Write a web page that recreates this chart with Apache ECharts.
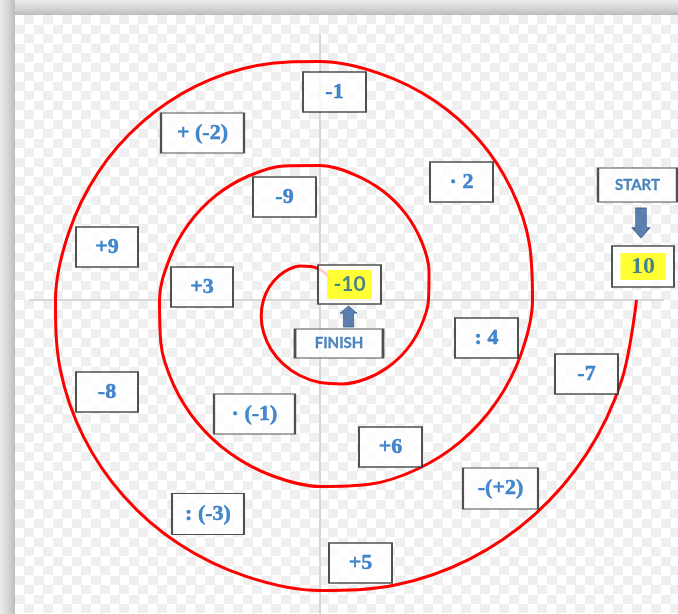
<!DOCTYPE html>
<html><head><meta charset="utf-8">
<script src="https://cdn.jsdelivr.net/npm/echarts@6/dist/echarts.min.js"></script>
<style>
html,body{margin:0;padding:0;background:#fff;}
#chart{width:678px;height:614px;background-color:#fff;
background-image:repeating-conic-gradient(#efefef 0 25%, #ffffff 0 50%);
background-size:19px 19px;background-position:15px 15px;}
</style></head><body><div id="chart"></div>
<script>
// Spiral points (units: centre of axes = 0,0; one point every 15 degrees)
const spiralX = [316.5, 301.5, 266.6, 214.6, 149.6, 76.3, 0, -74.1, -140.9, -196.2, -236.6, -259.7,
  -264.5, -251.3, -221.6, -177.8, -123.6, -62.8, 0, 60.6, 114.9, 159.5, 191.5, 209.4,
  212.5, 201.1, 176.5, 141.1, 97.6, 49.4, 0, -47.1, -88.9, -122.7, -146.5, -159.2,
  -160.5, -150.8, -131.5, -104.3, -71.6, -35.9, 0, 33.7, 62.9, 85.9, 101.5, 109.0,
  108.5, 100.6, 86.5, 67.5, 45.6, 22.5, 0, -20.2, -36.9, -49.1, -56.4, -58.8,
  -56.5, -50.4, -41.4, -30.8, -19.6, -9.0, 0, 6.8, 10.9];
const spiralY = [0, -80.8, -153.9, -214.6, -259.1, -284.8, -290.5, -276.4, -244.1, -196.2, -136.6, -69.6,
  0, 67.3, 127.9, 177.8, 214.1, 234.6, 238.5, 226.2, 199.0, 159.5, 110.6, 56.1,
  0, -53.9, -101.9, -141.1, -169.0, -184.3, -186.5, -176.0, -154.0, -122.7, -84.6, -42.7,
  0, 40.4, 75.9, 104.3, 124.0, 134.1, 134.5, 125.7, 109.0, 85.9, 58.6, 29.2,
  0, -27.0, -49.9, -67.5, -79.0, -83.9, -82.5, -75.5, -63.9, -49.1, -32.6, -15.7,
  0, 13.5, 23.9, 30.8, 33.9, 33.6, 30.5, 25.3, 18.9];

// Operation boxes along the spiral
const boxLabels = ['-1', '+ (-2)', '-9', '+9', '+3', '· 2', ': 4', '-7', '-8', '· (-1)', '+6', '-(+2)', ': (-3)', '+5'];
const boxX = [14.5, -117.5, -35.5, -213, -118, 141.5, 166.5, 266.5, -213, -65.5, 70.5, 180.5, -112, 40.5];
const boxY = [208, 167, 103, 53, 13, 118, -38, -74, -92, -114, -147, -188.5, -214, -263];

// Start / finish
const endLabels = ['START', 'FINISH'];
const endX = [317.5, 19];
const endY = [115, -43.5];
const valueLabels = ['10', '-10'];
const valueX = [323, 29.5];
const valueY = [33.5, 15.5];
const arrowX = [321, 28.5];
const arrowY = [77, -16.5];

// styles (sizes in px)
const boxW = [63, 83, 63, 62, 62, 63, 63, 63, 62, 81, 63, 75, 72, 63];
const boxH = [40, 40, 40, 40, 40, 40, 40, 40, 40, 40, 40, 41, 41, 40];
const endW = [79, 88], endH = [34, 29];
const valW = [62, 63], valH = [41, 39];
const hlW = [45, 45], hlH = [27, 29];
const valFont = ['Liberation Serif', 'Lato'];
const valSize = [24, 21];
const arrowSize = [[18, 30], [17, 21]];
const arrowRot = [0, 180];

const chart = echarts.init(document.getElementById('chart'), null, {renderer: 'canvas'});
const axisCommon = {
  type: 'value',
  axisLine: {onZero: true, lineStyle: {color: '#d6d6d6', width: 2}},
  axisTick: {show: false}, axisLabel: {show: false}, splitLine: {show: false}
};
const boxStyle = {color: '#ffffff', borderColor: '#262626', borderWidth: 1.6};
const arrowPath = 'path://M20,0 L80,0 L80,66 L100,66 L50,100 L0,66 L20,66 Z';
const numBlue = '#166ac0';

chart.setOption({
  animation: false,
  backgroundColor: 'transparent',
  grid: {left: 30, right: 15, top: 35, bottom: 0},
  xAxis: Object.assign({min: -290, max: 343}, axisCommon),
  yAxis: Object.assign({min: -314, max: 265}, axisCommon),
  graphic: [
    {type: 'rect', silent: true, shape: {x: 0, y: 0, width: 678, height: 15},
      style: {fill: new echarts.graphic.LinearGradient(0, 0, 0, 1, [
        {offset: 0, color: '#ededed'}, {offset: 0.6, color: '#d3d3d3'}, {offset: 1, color: '#bcbcbc'}])}},
    {type: 'rect', silent: true, shape: {x: 0, y: 0, width: 15, height: 614},
      style: {fill: new echarts.graphic.LinearGradient(0, 0, 1, 0, [
        {offset: 0, color: '#ededed'}, {offset: 0.6, color: '#d3d3d3'}, {offset: 1, color: '#bcbcbc'}])}}
  ],
  series: [
    {
      type: 'line', z: 2, silent: true, clip: false,
      data: spiralX.map((x, i) => [x, spiralY[i]]),
      smooth: 0.35, showSymbol: false, symbol: 'none',
      lineStyle: {color: '#ff0000', width: 3}
    },
    {
      type: 'scatter', z: 3, silent: true, clip: false, symbol: 'rect',
      data: boxX.map((x, i) => ({value: [x, boxY[i]], name: boxLabels[i], symbolSize: [boxW[i], boxH[i]]})),
      itemStyle: boxStyle,
      label: {show: true, position: 'inside', formatter: '{b}', color: numBlue,
        fontFamily: 'Liberation Serif', fontWeight: 'bold', fontSize: 22,
        textBorderColor: numBlue, textBorderWidth: 0.5}
    },
    {
      type: 'scatter', z: 3, silent: true, clip: false, symbol: 'rect',
      data: endX.map((x, i) => ({value: [x, endY[i]], name: endLabels[i], symbolSize: [endW[i], endH[i]]})),
      itemStyle: boxStyle,
      label: {show: true, position: 'inside', formatter: '{b}', color: '#2468ad',
        fontFamily: 'Lato', fontWeight: 'bold', fontSize: 15,
        textBorderColor: '#2468ad', textBorderWidth: 0.3}
    },
    {
      type: 'scatter', z: 3, silent: true, clip: false, symbol: 'rect',
      data: valueX.map((x, i) => ({value: [x, valueY[i]], name: valueLabels[i], symbolSize: [valW[i], valH[i]],
        label: {width: hlW[i], height: hlH[i], lineHeight: hlH[i], fontFamily: valFont[i], fontSize: valSize[i]}})),
      itemStyle: boxStyle,
      label: {show: true, position: 'inside', formatter: '{b}', color: '#1b62a3',
        fontWeight: 'bold', backgroundColor: '#ffff00', align: 'center', verticalAlign: 'middle'}
    },
    {
      type: 'scatter', z: 3, silent: true, clip: false,
      data: arrowX.map((x, i) => ({value: [x, arrowY[i]], symbolSize: arrowSize[i], symbolRotate: arrowRot[i]})),
      symbol: arrowPath, symbolKeepAspect: false,
      itemStyle: {color: '#33619b', borderColor: '#27507f', borderWidth: 0.8}
    }
  ]
});
</script></body></html>
